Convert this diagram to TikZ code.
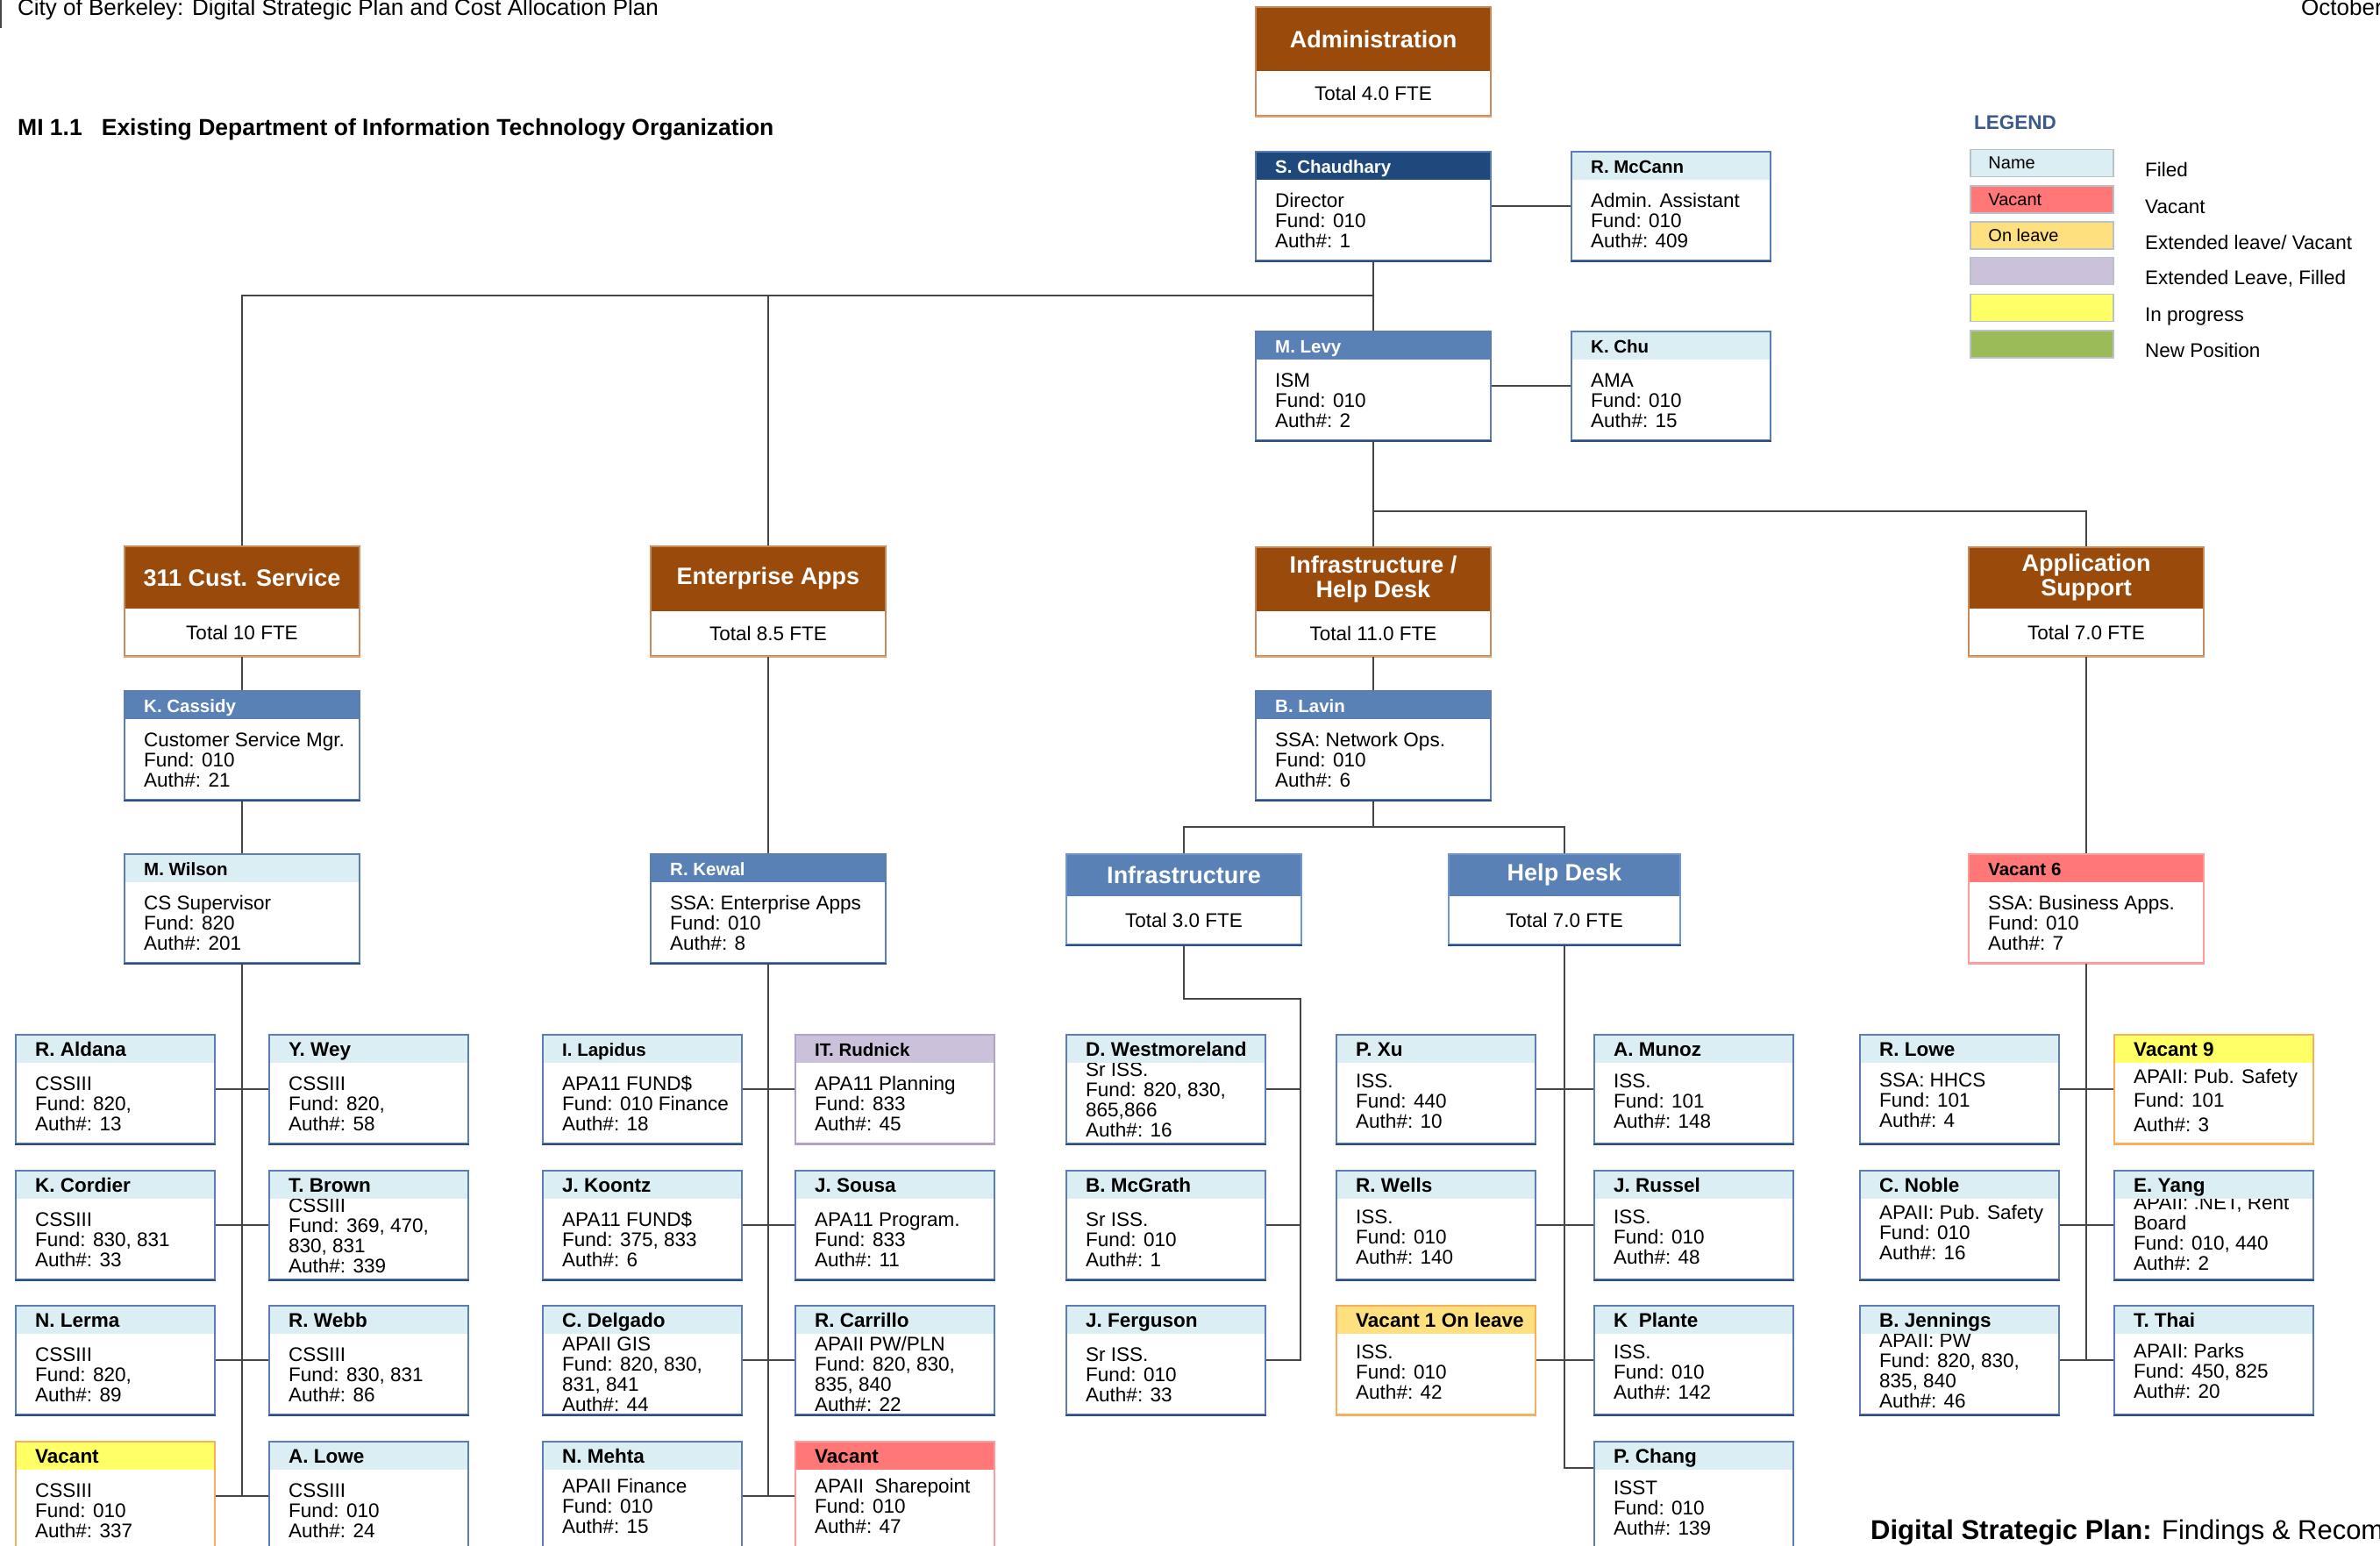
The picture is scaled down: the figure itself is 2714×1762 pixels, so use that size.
\documentclass[tikz,border=0pt]{standalone}
\usepackage{fontspec}
\setmainfont{Liberation Sans}

\definecolor{brownhdr}{HTML}{9A4A0B}
\definecolor{navyhdr}{HTML}{1F497D}
\definecolor{midhdr}{HTML}{5981B5}
\definecolor{lighthdr}{HTML}{DAEEF3}
\definecolor{redhdr}{HTML}{FF7777}
\definecolor{leavehdr}{HTML}{FFE07F}
\definecolor{yellowhdr}{HTML}{FFFF66}
\definecolor{lavhdr}{HTML}{CCC1DA}
\definecolor{greensw}{HTML}{9BBB59}
\definecolor{bluebrd}{HTML}{5B7CB5}
\definecolor{bluebot}{HTML}{2E4D86}
\definecolor{lightbluebrd}{HTML}{6F95D8}
\definecolor{brownbrd}{HTML}{C68A5C}
\definecolor{brownbot}{HTML}{E0A070}
\definecolor{redbrd}{HTML}{FF9B9B}
\definecolor{orangebrd}{HTML}{F9AE5E}
\definecolor{lavbrd}{HTML}{B3A2C7}
\definecolor{linegray}{HTML}{454545}
\definecolor{legendblue}{HTML}{3B5A88}
\definecolor{swatchbrd}{HTML}{B9C2C9}

% person box: [first body baseline offset]{id}{x}{y top}{width}{kind}{name}{body lines}
\newcommand{\person}[8][63]{%
  \node[bodytxt, anchor=base west, inner sep=0pt] at ({#3+22},{#4+#1})
    {\begin{tabular}[t]{@{}l@{}}#8\end{tabular}};
  \fill[hdr-#6] (#3,#4) rectangle ({#3+#5},{#4+32});
  \node[namef, txt-#6, anchor=base west, inner sep=0pt] at ({#3+22},{#4+24}) {#7};
  \node[frame, brd-#6, minimum width={#5*1pt}, minimum height=124pt] (#2) at ({#3+#5/2},{#4+62}) {};
  \draw[bottomline, bot-#6] (#2.south west) -- (#2.south east);
}

% department box: {id}{x1}{x2}{y top}{y header bottom}{y bottom}{kind}{title}{total}
\newcommand{\dept}[9]{%
  \fill[dhdr-#7] (#2,#4) rectangle (#3,#5);
  \node[titlef, align=center, inner sep=0pt] at ({(#2+#3)/2},{(#4+#5)/2}) {#8};
  \node[bodytxt, inner sep=0pt] at ({(#2+#3)/2},{(#5+#6)/2}) {#9};
  \node[frame, dbrd-#7, minimum width={(#3-#2)*1pt}, minimum height={(#6-#4)*1pt}] (#1) at ({(#2+#3)/2},{(#4+#6)/2}) {};
  \draw[bottomline, dbot-#7] (#1.south west) -- (#1.south east);
}

\begin{document}
\begin{tikzpicture}[x=1pt, y=-1pt,
  conn/.style={draw=linegray, line width=2pt},
  bodytxt/.style={font=\fontsize{22.5}{23}\selectfont},
  namef/.style={font=\bfseries\fontsize{22.5}{24}\selectfont},
  titlef/.style={font=\bfseries\fontsize{27}{28}\selectfont, text=white},
  frame/.style={draw, rectangle, inner sep=0pt, line width=1.6pt},
  bottomline/.style={line width=2.6pt},
  hdr-navy/.style={fill=navyhdr}, txt-navy/.style={text=white},
  brd-navy/.style={draw=bluebrd}, bot-navy/.style={draw=bluebot},
  hdr-mid/.style={fill=midhdr}, txt-mid/.style={text=white},
  brd-mid/.style={draw=bluebrd}, bot-mid/.style={draw=bluebot},
  hdr-light/.style={fill=lighthdr}, txt-light/.style={text=black},
  brd-light/.style={draw=bluebrd}, bot-light/.style={draw=bluebot},
  hdr-red/.style={fill=redhdr}, txt-red/.style={text=black},
  brd-red/.style={draw=redbrd}, bot-red/.style={draw=redbrd},
  hdr-onleave/.style={fill=leavehdr}, txt-onleave/.style={text=black},
  brd-onleave/.style={draw=orangebrd}, bot-onleave/.style={draw=orangebrd},
  hdr-yellow/.style={fill=yellowhdr}, txt-yellow/.style={text=black},
  brd-yellow/.style={draw=orangebrd}, bot-yellow/.style={draw=orangebrd},
  hdr-lav/.style={fill=lavhdr}, txt-lav/.style={text=black},
  brd-lav/.style={draw=lavbrd}, bot-lav/.style={draw=lavbrd},
  dhdr-brown/.style={fill=brownhdr}, dbrd-brown/.style={draw=brownbrd}, dbot-brown/.style={draw=brownbot},
  dhdr-blue/.style={fill=midhdr}, dbrd-blue/.style={draw=lightbluebrd}, dbot-blue/.style={draw=bluebot},
  swatch/.style={draw=swatchbrd, line width=1.5pt, rectangle, inner sep=0pt, minimum width=163pt, minimum height=31pt},
  swatchtxt/.style={font=\fontsize{20}{22}\selectfont, anchor=west, inner sep=0pt},
  legendlbl/.style={font=\fontsize{22.5}{24}\selectfont, anchor=base west, inner sep=0pt}
]
\useasboundingbox (0,0) rectangle (2714,1762);
\clip (0,0) rectangle (2714,1762);
\fill[white] (0,0) rectangle (2714,1762);

% page header and titles
\draw[line width=2pt, linegray] (1,0) -- (1,32);
\node[anchor=base west, inner sep=0pt, font=\fontsize{26}{28}\selectfont] (doctitle) at (20,17)
  {City of Berkeley: Digital Strategic Plan and Cost Allocation Plan};
\node[anchor=base west, inner sep=0pt, font=\fontsize{26}{28}\selectfont] (docdate) at (2624,17) {October};
\node[anchor=base west, inner sep=0pt, font=\bfseries\fontsize{26.5}{28}\selectfont] (orgtitle) at (20,154)
  {MI 1.1\hspace{22pt}Existing Department of Information Technology Organization};
\node[anchor=base west, inner sep=0pt, font=\fontsize{31}{33}\selectfont] (footer) at (2133,1755)
  {\textbf{Digital Strategic Plan:} Findings \& Recommendations};

% legend
\node[anchor=base west, inner sep=0pt, font=\bfseries\fontsize{22.5}{24}\selectfont, text=legendblue] (legend) at (2251,147) {LEGEND};
\node[swatch, fill=lighthdr]  (lg1) at (2328.5,186) {};
\node[swatch, fill=redhdr]    (lg2) at (2328.5,227.5) {};
\node[swatch, fill=leavehdr]  (lg3) at (2328.5,268.5) {};
\node[swatch, fill=lavhdr]    (lg4) at (2328.5,309) {};
\node[swatch, fill=yellowhdr] (lg5) at (2328.5,351) {};
\node[swatch, fill=greensw]   (lg6) at (2328.5,392.5) {};
\node[swatchtxt] at ([xshift=21pt]lg1.west) {Name};
\node[swatchtxt] at ([xshift=21pt]lg2.west) {Vacant};
\node[swatchtxt] at ([xshift=21pt]lg3.west) {On leave};
\node[legendlbl] (lt1) at (2446,201) {Filed};
\node[legendlbl] (lt2) at (2446,243) {Vacant};
\node[legendlbl] (lt3) at (2446,284) {Extended leave/ Vacant};
\node[legendlbl] (lt4) at (2446,324) {Extended Leave, Filled};
\node[legendlbl] (lt5) at (2446,366) {In progress};
\node[legendlbl] (lt6) at (2446,407) {New Position};

% administration
\dept{admin}{1432}{1700}{8}{81}{132}{brown}{Administration}{Total 4.0 FTE}
\tikzset{namef/.style={font=\bfseries\fontsize{20.5}{22}\selectfont}}
\person{chaud}{1432}{173}{268}{navy}{S. Chaudhary}{Director\\Fund: 010\\Auth\#: 1}
\person{mccann}{1792}{173}{227}{light}{R. McCann}{Admin. Assistant\\Fund: 010\\Auth\#: 409}
\person{levy}{1432}{378}{268}{mid}{M. Levy}{ISM\\Fund: 010\\Auth\#: 2}
\person{chu}{1792}{378}{227}{light}{K. Chu}{AMA\\Fund: 010\\Auth\#: 15}

% divisions
\dept{cs}{142}{410}{623}{694}{748}{brown}{311 Cust. Service}{Total 10 FTE}
\dept{ea}{742}{1010}{623}{697}{748}{brown}{Enterprise Apps}{Total 8.5 FTE}
\dept{ihd}{1432}{1700}{624}{697}{748}{brown}{Infrastructure /\\Help Desk}{Total 11.0 FTE}
\dept{as}{2245}{2513}{624}{694}{748}{brown}{Application\\Support}{Total 7.0 FTE}

\person{cassidy}{142}{788}{268}{mid}{K. Cassidy}{Customer Service Mgr.\\Fund: 010\\Auth\#: 21}
\person{lavin}{1432}{788}{268}{mid}{B. Lavin}{SSA: Network Ops.\\Fund: 010\\Auth\#: 6}
\person{wilson}{142}{974}{268}{light}{M. Wilson}{CS Supervisor\\Fund: 820\\Auth\#: 201}
\person{kewal}{742}{974}{268}{mid}{R. Kewal}{SSA: Enterprise Apps\\Fund: 010\\Auth\#: 8}
\person{vacsix}{2245}{974}{268}{red}{Vacant 6}{SSA: Business Apps.\\Fund: 010\\Auth\#: 7}
\dept{infra}{1216}{1484}{974}{1022}{1077}{blue}{Infrastructure}{Total 3.0 FTE}
\dept{hd}{1652}{1916}{974}{1022}{1077}{blue}{Help Desk}{Total 7.0 FTE}

% staff rows
\tikzset{namef/.style={font=\bfseries\fontsize{22.5}{24}\selectfont}}
% 311 Customer Service
\person{aldana}{18}{1180}{227}{light}{R. Aldana}{CSSIII\\Fund: 820,\\Auth\#: 13}
\person{wey}{307}{1180}{227}{light}{Y. Wey}{CSSIII\\Fund: 820,\\Auth\#: 58}
\person{cordier}{18}{1335}{227}{light}{K. Cordier}{CSSIII\\Fund: 830, 831\\Auth\#: 33}
\person[47]{tbrown}{307}{1335}{227}{light}{T. Brown}{CSSIII\\Fund: 369, 470,\\830, 831\\Auth\#: 339}
\person{lerma}{18}{1489}{227}{light}{N. Lerma}{CSSIII\\Fund: 820,\\Auth\#: 89}
\person{webb}{307}{1489}{227}{light}{R. Webb}{CSSIII\\Fund: 830, 831\\Auth\#: 86}
\person{vaccs}{18}{1644}{227}{yellow}{Vacant}{CSSIII\\Fund: 010\\Auth\#: 337}
\person{alowe}{307}{1644}{227}{light}{A. Lowe}{CSSIII\\Fund: 010\\Auth\#: 24}

% Enterprise Apps
\person{lapidus}{619}{1180}{227}{light}{\fontsize{20.5}{22}\selectfont I. Lapidus}{APA11 FUND\$\\Fund: 010 Finance\\Auth\#: 18}
\person{rudnick}{907}{1180}{227}{lav}{\fontsize{20.5}{22}\selectfont IT. Rudnick}{APA11 Planning\\Fund: 833\\Auth\#: 45}
\person{koontz}{619}{1335}{227}{light}{J. Koontz}{APA11 FUND\$\\Fund: 375, 833\\Auth\#: 6}
\person{sousa}{907}{1335}{227}{light}{J. Sousa}{APA11 Program.\\Fund: 833\\Auth\#: 11}
\person[51]{delgado}{619}{1489}{227}{light}{C. Delgado}{APAII GIS\\Fund: 820, 830,\\831, 841\\Auth\#: 44}
\person[51]{carrillo}{907}{1489}{227}{light}{R. Carrillo}{APAII PW/PLN\\Fund: 820, 830,\\835, 840\\Auth\#: 22}
\person[58]{mehta}{619}{1644}{227}{light}{N. Mehta}{APAII Finance\\Fund: 010\\Auth\#: 15}
\person[58]{vacea}{907}{1644}{227}{red}{Vacant}{APAII\ \ Sharepoint\\Fund: 010\\Auth\#: 47}

% Infrastructure
\person[47]{westm}{1216}{1180}{227}{light}{D. Westmoreland}{Sr ISS.\\Fund: 820, 830,\\865,866\\Auth\#: 16}
\person{mcgrath}{1216}{1335}{227}{light}{B. McGrath}{Sr ISS.\\Fund: 010\\Auth\#: 1}
\person{ferg}{1216}{1489}{227}{light}{J. Ferguson}{Sr ISS.\\Fund: 010\\Auth\#: 33}

% Help Desk
\person[60]{xu}{1524}{1180}{227}{light}{P. Xu}{ISS.\\Fund: 440\\Auth\#: 10}
\person[60]{munoz}{1818}{1180}{227}{light}{A. Munoz}{ISS.\\Fund: 101\\Auth\#: 148}
\person[60]{wells}{1524}{1335}{227}{light}{R. Wells}{ISS.\\Fund: 010\\Auth\#: 140}
\person[60]{russel}{1818}{1335}{227}{light}{J. Russel}{ISS.\\Fund: 010\\Auth\#: 48}
\person[60]{vacone}{1524}{1489}{227}{onleave}{Vacant 1 On leave}{ISS.\\Fund: 010\\Auth\#: 42}
\person[60]{plante}{1818}{1489}{227}{light}{K\ \ Plante}{ISS.\\Fund: 010\\Auth\#: 142}
\person[60]{chang}{1818}{1644}{227}{light}{P. Chang}{ISST\\Fund: 010\\Auth\#: 139}

% Application Support
\person[59]{rlowe}{2121}{1180}{227}{light}{R. Lowe}{SSA: HHCS\\Fund: 101\\Auth\#: 4}
\person[55]{vacnine}{2411}{1180}{227}{yellow}{Vacant 9}{APAII: Pub. Safety\\[4.5pt]Fund: 101\\[4.5pt]Auth\#: 3}
\person[55]{noble}{2121}{1335}{227}{light}{C. Noble}{APAII: Pub. Safety\\Fund: 010\\Auth\#: 16}
\person[44]{yang}{2411}{1335}{227}{light}{E. Yang}{APAII: .NET, Rent\\Board\\Fund: 010, 440\\Auth\#: 2}
\person[47]{jenn}{2121}{1489}{227}{light}{B. Jennings}{APAII: PW\\Fund: 820, 830,\\835, 840\\Auth\#: 46}
\person[59]{thai}{2411}{1489}{227}{light}{T. Thai}{APAII: Parks\\Fund: 450, 825\\Auth\#: 20}

% reporting lines
\coordinate (topbus) at (1566,337);
\coordinate (midbus) at (1566,583);
\coordinate (lavbus) at (1566,943);
\coordinate (infbus) at (1483,1139);
\draw[conn] (chaud.east) -- (mccann.west);
\draw[conn] (chaud.south) -- (levy.north);
\draw[conn] (cs.north) |- (topbus);
\draw[conn] (ea.north) -- (ea.north |- topbus);
\draw[conn] (levy.east) -- (chu.west);
\draw[conn] (levy.south) -- (ihd.north);
\draw[conn] (midbus) -| (as.north);
\draw[conn] (cs.south) -- (cassidy.north);
\draw[conn] (cassidy.south) -- (wilson.north);
\draw[conn] (wilson.south) -- (wilson.south |- alowe.west);
\draw[conn] (ea.south) -- (kewal.north);
\draw[conn] (kewal.south) -- (kewal.south |- vacea.west);
\draw[conn] (ihd.south) -- (lavin.north);
\draw[conn] (lavin.south) -- (lavbus);
\draw[conn] (infra.north) |- (lavbus) -| (hd.north);
\draw[conn] (infra.south) |- (infbus) -- (infbus |- ferg.east) -- (ferg.east);
\draw[conn] (westm.east) -- (infbus |- westm.east);
\draw[conn] (mcgrath.east) -- (infbus |- mcgrath.east);
\draw[conn] (hd.south) |- ([yshift=32pt]chang.west);
\draw[conn] (as.south) -- (vacsix.north);
\draw[conn] (vacsix.south) -- (vacsix.south |- thai.west);
% row links
\draw[conn] (aldana.east) -- (wey.west);
\draw[conn] (cordier.east) -- (tbrown.west);
\draw[conn] (lerma.east) -- (webb.west);
\draw[conn] (vaccs.east) -- (alowe.west);
\draw[conn] (lapidus.east) -- (rudnick.west);
\draw[conn] (koontz.east) -- (sousa.west);
\draw[conn] (delgado.east) -- (carrillo.west);
\draw[conn] (mehta.east) -- (vacea.west);
\draw[conn] (xu.east) -- (munoz.west);
\draw[conn] (wells.east) -- (russel.west);
\draw[conn] (vacone.east) -- (plante.west);
\draw[conn] (rlowe.east) -- (vacnine.west);
\draw[conn] (noble.east) -- (yang.west);
\draw[conn] (jenn.east) -- (thai.west);
\end{tikzpicture}
\end{document}
